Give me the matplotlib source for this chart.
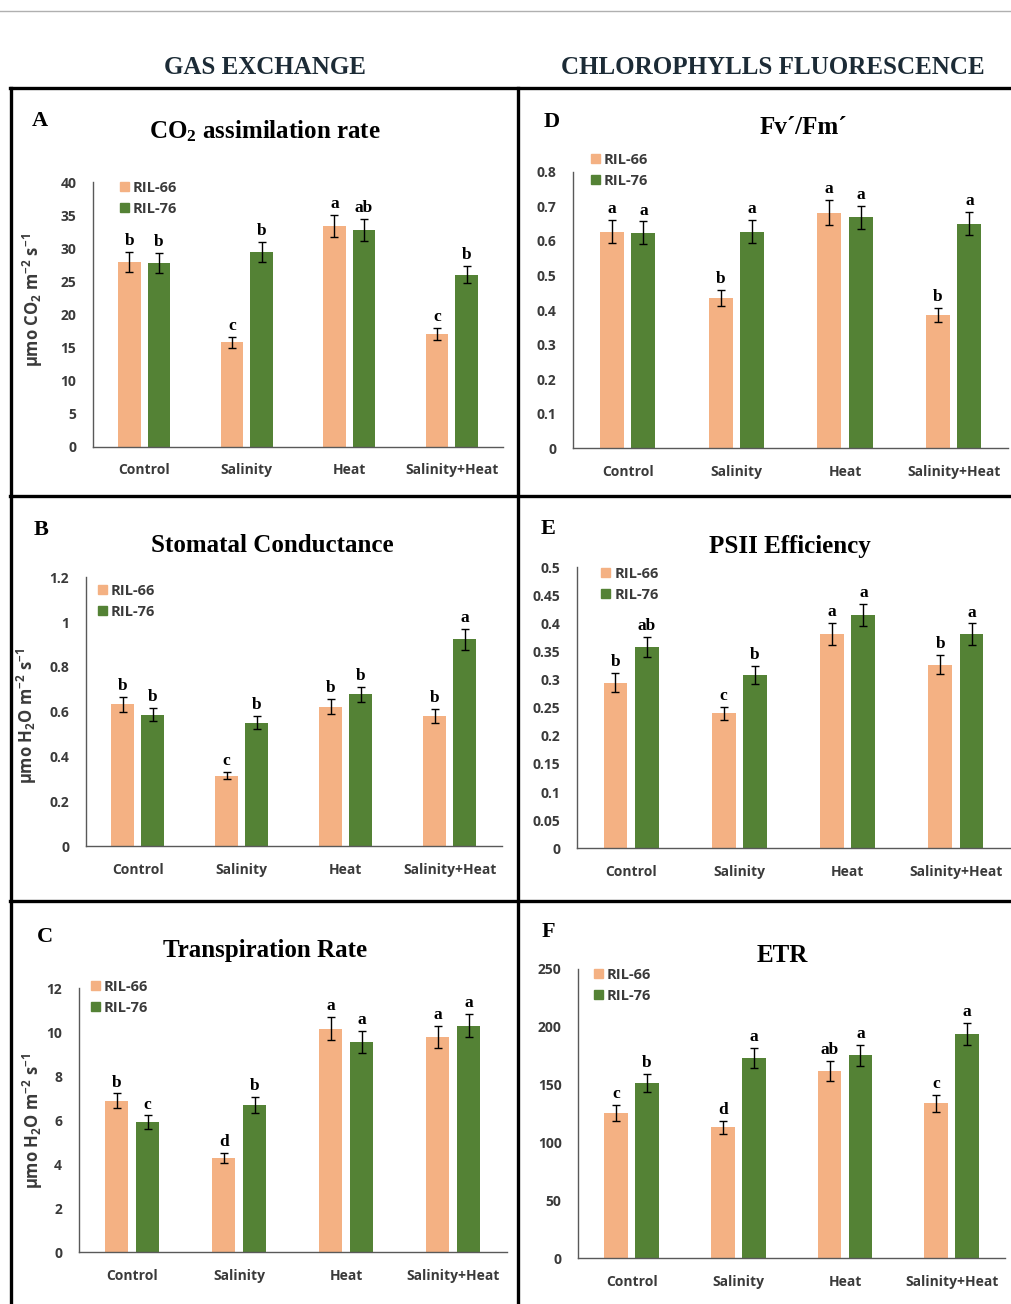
import matplotlib
matplotlib.use("Agg")
import matplotlib.pyplot as plt
from matplotlib.lines import Line2D
from matplotlib.patches import Patch
import numpy as np

plt.rcParams['mathtext.default'] = 'regular'

# ---- data ----
categories = ["Control", "Salinity", "Heat", "Salinity+Heat"]
series = ["RIL-66", "RIL-76"]

# A: CO2 assimilation rate
co2_66 = [27.9, 15.8, 33.4, 17.1]
co2_76 = [27.8, 29.5, 32.8, 26.0]
co2_err66 = [1.5, 0.8, 1.7, 0.9]
co2_err76 = [1.5, 1.5, 1.65, 1.3]
co2_let66 = ["b", "c", "a", "c"]
co2_let76 = ["b", "b", "ab", "b"]
co2_ticks = [0, 5, 10, 15, 20, 25, 30, 35, 40]
co2_ticklabels = ["0", "5", "10", "15", "20", "25", "30", "35", "40"]

# B: stomatal conductance
gs_66 = [0.633, 0.314, 0.622, 0.582]
gs_76 = [0.587, 0.551, 0.677, 0.923]
gs_err66 = [0.034, 0.016, 0.033, 0.031]
gs_err76 = [0.030, 0.029, 0.035, 0.046]
gs_let66 = ["b", "c", "b", "b"]
gs_let76 = ["b", "b", "b", "a"]
gs_ticks = [0, 0.2, 0.4, 0.6, 0.8, 1.0, 1.2]
gs_ticklabels = ["0", "0.2", "0.4", "0.6", "0.8", "1", "1.2"]

# C: transpiration rate
tr_66 = [6.89, 4.29, 10.17, 9.77]
tr_76 = [5.92, 6.68, 9.56, 10.3]
tr_err66 = [0.33, 0.24, 0.51, 0.50]
tr_err76 = [0.30, 0.36, 0.49, 0.53]
tr_let66 = ["b", "d", "a", "a"]
tr_let76 = ["c", "b", "a", "a"]
tr_ticks = [0, 2, 4, 6, 8, 10, 12]
tr_ticklabels = ["0", "2", "4", "6", "8", "10", "12"]

# D: Fv'/Fm'
fv_66 = [0.627, 0.434, 0.681, 0.385]
fv_76 = [0.624, 0.627, 0.668, 0.650]
fv_err66 = [0.033, 0.023, 0.036, 0.021]
fv_err76 = [0.032, 0.034, 0.033, 0.034]
fv_let66 = ["a", "b", "a", "b"]
fv_let76 = ["a", "a", "a", "a"]
fv_ticks = [0, 0.1, 0.2, 0.3, 0.4, 0.5, 0.6, 0.7, 0.8]
fv_ticklabels = ["0", "0.1", "0.2", "0.3", "0.4", "0.5", "0.6", "0.7", "0.8"]

# E: PSII efficiency
ps_66 = [0.295, 0.240, 0.381, 0.327]
ps_76 = [0.358, 0.308, 0.415, 0.381]
ps_err66 = [0.017, 0.012, 0.020, 0.017]
ps_err76 = [0.018, 0.016, 0.020, 0.019]
ps_let66 = ["b", "c", "a", "b"]
ps_let76 = ["ab", "b", "a", "a"]
ps_ticks = [0, 0.05, 0.1, 0.15, 0.2, 0.25, 0.3, 0.35, 0.4, 0.45, 0.5]
ps_ticklabels = ["0", "0.05", "0.1", "0.15", "0.2", "0.25", "0.3", "0.35",
                 "0.4", "0.45", "0.5"]

# F: ETR
etr_66 = [125.3, 113.2, 161.9, 133.9]
etr_76 = [151.5, 173.1, 175.4, 193.8]
etr_err66 = [6.9, 5.8, 8.5, 7.2]
etr_err76 = [7.6, 8.9, 8.9, 9.8]
etr_let66 = ["c", "d", "ab", "c"]
etr_let76 = ["b", "a", "a", "a"]
etr_ticks = [0, 50, 100, 150, 200, 250]
etr_ticklabels = ["0", "50", "100", "150", "200", "250"]

# ---- style ----
C66 = "#F4B183"
C76 = "#548235"
SANS = ["Open Sans", "DejaVu Sans"]
SERIF = "Liberation Serif"
TXT = "#3a3a3a"

W, H = 1012, 1304
fig = plt.figure(figsize=(W / 100, H / 100), dpi=100)


def fx(x):
    return x / W


def fy(y):
    return 1 - y / H


def hline(y, x0, x1, lw=2.4, color="black"):
    fig.add_artist(Line2D([fx(x0), fx(x1)], [fy(y), fy(y)], lw=lw, color=color,
                          transform=fig.transFigure))


def vline(x, y0, y1, lw=2.4, color="black"):
    fig.add_artist(Line2D([fx(x), fx(x)], [fy(y0), fy(y1)], lw=lw, color=color,
                          transform=fig.transFigure))


# frames
hline(10.5, 0, W, lw=1.0, color="#b0b0b0")
hline(88, 10, W)
hline(496, 10, W)
hline(901, 10, W)
vline(11, 88, H)
vline(518.5, 88, H)

fig.text(fx(265), fy(67), "GAS EXCHANGE", family=SERIF, weight="bold",
         fontsize=18, color="#1c2b36", ha="center", va="center")
fig.text(fx(773), fy(67), "CHLOROPHYLLS FLUORESCENCE", family=SERIF,
         weight="bold", fontsize=18, color="#1c2b36", ha="center", va="center")


def panel(rect, ylim, ticks, ticklabels, v66, v76, e66, e76, l66, l76,
          letter, letter_xy, title, title_xy, ylabel, ylabel_xy, legend_xy):
    x0, x1, ytop, ybot = rect
    ax = fig.add_axes([fx(x0), fy(ybot), fx(x1 - x0), (ybot - ytop) / H])
    x = np.arange(len(categories))
    off, w = 0.145, 0.22
    ax.bar(x - off, v66, w, color=C66, label=series[0])
    ax.bar(x + off, v76, w, color=C76, label=series[1])
    ax.errorbar(x - off, v66, yerr=e66, fmt="none", ecolor="black",
                elinewidth=1, capsize=3, capthick=1)
    ax.errorbar(x + off, v76, yerr=e76, fmt="none", ecolor="black",
                elinewidth=1, capsize=3, capthick=1)
    for xi, v, e, t in zip(x - off, v66, e66, l66):
        ax.annotate(t, (xi, v + e), xytext=(0, 5), textcoords="offset points",
                    ha="center", va="baseline", family=SERIF, weight="bold",
                    fontsize=12.5)
    for xi, v, e, t in zip(x + off, v76, e76, l76):
        ax.annotate(t, (xi, v + e), xytext=(0, 5), textcoords="offset points",
                    ha="center", va="baseline", family=SERIF, weight="bold",
                    fontsize=12.5)
    ax.set_xlim(-0.5, 3.5)
    ax.set_ylim(*ylim)
    ax.set_yticks(ticks)
    ax.set_yticklabels(ticklabels)
    ax.set_xticks(x)
    ax.set_xticklabels(categories)
    for lab in ax.get_xticklabels() + ax.get_yticklabels():
        lab.set_family(SANS)
        lab.set_weight("bold")
        lab.set_fontsize(10)
        lab.set_color(TXT)
    ax.tick_params(length=0)
    ax.tick_params(axis="y", pad=12)
    ax.tick_params(axis="x", pad=12)
    for s in ["top", "right"]:
        ax.spines[s].set_visible(False)
    for s in ["left", "bottom"]:
        ax.spines[s].set_color("#595959")
        ax.spines[s].set_linewidth(1.0)
    ax.patch.set_alpha(0)

    fig.text(fx(letter_xy[0]), fy(letter_xy[1]), letter, family=SERIF,
             weight="bold", fontsize=16, ha="center", va="center")
    fig.text(fx(title_xy[0]), fy(title_xy[1]), title, family=SERIF,
             weight="bold", fontsize=18, ha="center", va="center")
    if ylabel:
        fig.text(fx(ylabel_xy[0]), fy(ylabel_xy[1]), ylabel,
                 family=SANS, weight="bold", fontsize=12, color=TXT,
                 rotation=90, ha="center", va="center")

    handles = [Patch(color=C66), Patch(color=C76)]
    leg = fig.legend(handles, series, loc="upper left",
                     bbox_to_anchor=(fx(legend_xy[0]), fy(legend_xy[1])),
                     bbox_transform=fig.transFigure, frameon=False,
                     borderpad=0, borderaxespad=0, handlelength=0.6,
                     handleheight=0.6, handletextpad=0.3, labelspacing=0.45,
                     prop={"family": SANS, "weight": "bold", "size": 10.5})
    for t in leg.get_texts():
        t.set_color(TXT)
    return ax


panel((93, 503, 182.3, 446.7), (0, 40), co2_ticks, co2_ticklabels,
      co2_66, co2_76, co2_err66, co2_err76, co2_let66, co2_let76,
      "A", (40, 121), "CO$_2$ assimilation rate", (265, 131),
      "µmo CO$_2$ m$^{-2}$ s$^{-1}$", (33, 300), (120, 181))

panel((85.7, 501.7, 577.3, 846), (0, 1.2), gs_ticks, gs_ticklabels,
      gs_66, gs_76, gs_err66, gs_err76, gs_let66, gs_let76,
      "B", (41, 530), "Stomatal Conductance", (272, 546),
      "µmo H$_2$O m$^{-2}$ s$^{-1}$", (27, 716), (98, 584))

panel((78.7, 506.7, 988.3, 1252.3), (0, 12), tr_ticks, tr_ticklabels,
      tr_66, tr_76, tr_err66, tr_err76, tr_let66, tr_let76,
      "C", (45, 937), "Transpiration Rate", (265, 950),
      "µmo H$_2$O m$^{-2}$ s$^{-1}$", (33, 1121), (91, 980))

panel((573.3, 1008, 171.7, 448.3), (0, 0.8), fv_ticks, fv_ticklabels,
      fv_66, fv_76, fv_err66, fv_err76, fv_let66, fv_let76,
      "D", (552, 122), "Fv´/Fm´", (803, 127), None, None, (591, 153))

panel((577, 1010, 567.3, 848.3), (0, 0.5), ps_ticks, ps_ticklabels,
      ps_66, ps_76, ps_err66, ps_err76, ps_let66, ps_let76,
      "E", (548, 529), "PSII Efficiency", (790, 546), None, None, (601, 567))

panel((578.3, 1005, 969, 1258.3), (0, 250), etr_ticks, etr_ticklabels,
      etr_66, etr_76, etr_err66, etr_err76, etr_let66, etr_let76,
      "F", (548, 932), "ETR", (782, 955), None, None, (594, 968))

fig.savefig("out.png", dpi=100)
